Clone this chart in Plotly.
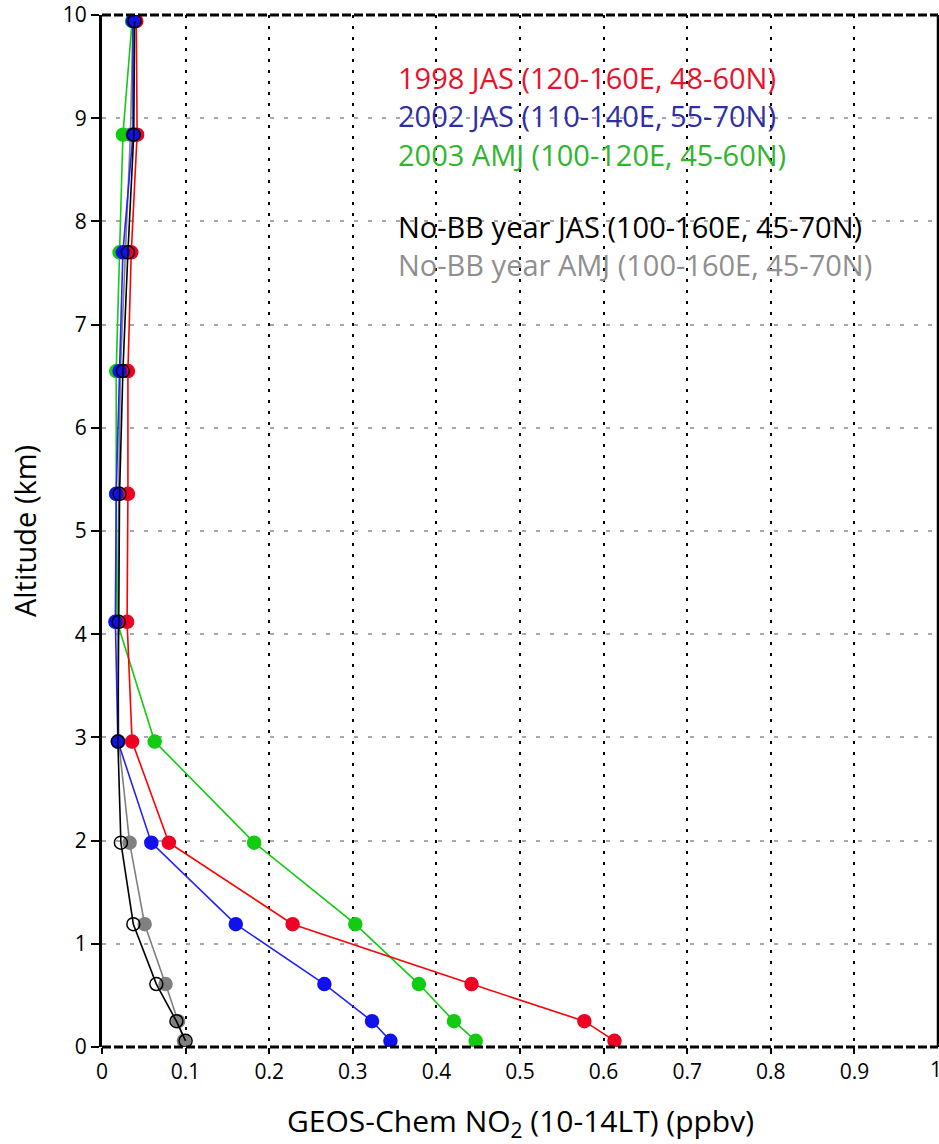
import plotly.graph_objects as go

altitude = [0.06, 0.25, 0.61, 1.19, 1.98, 2.96, 4.12, 5.36, 6.55, 7.70, 8.84, 9.94]

no2_1998_jas = [0.613, 0.577, 0.442, 0.228, 0.080, 0.036, 0.030, 0.031, 0.031, 0.035, 0.042, 0.041]
no2_2002_jas = [0.345, 0.323, 0.266, 0.160, 0.059, 0.019, 0.016, 0.017, 0.021, 0.025, 0.037, 0.037]
no2_2003_amj = [0.447, 0.421, 0.379, 0.303, 0.182, 0.063, 0.018, 0.017, 0.017, 0.021, 0.025, 0.036]
no2_nobb_jas = [0.100, 0.089, 0.065, 0.0375, 0.0226, 0.019, 0.020, 0.021, 0.025, 0.031, 0.038, 0.039]
no2_nobb_amj = [0.098, 0.091, 0.076, 0.051, 0.033, 0.020, 0.019, 0.020, 0.022, 0.028, 0.034, 0.037]

x_ticks = [0, 0.1, 0.2, 0.3, 0.4, 0.5, 0.6, 0.7, 0.8, 0.9]
x_tick_labels = ["0", "0.1", "0.2", "0.3", "0.4", "0.5", "0.6", "0.7", "0.8", "0.9"]
x_last_tick = 1
x_last_label = "1"
y_ticks = list(range(0, 11))

x_title = "GEOS-Chem NO<sub>2</sub> (10-14LT) (ppbv)"
y_title = "Altitude (km)"

legend_labels = [
    "1998 JAS (120-160E, 48-60N)",
    "2002 JAS (110-140E, 55-70N)",
    "2003 AMJ (100-120E, 45-60N)",
    "No-BB year JAS (100-160E, 45-70N)",
    "No-BB year AMJ (100-160E, 45-70N)",
]
legend_colors = ["#e8132b", "#2e2ea8", "#2fb52f", "#000000", "#8f8f8f"]

FONT = "Open Sans"

fig = go.Figure()

def add_series(x, color, marker_fill, marker_line):
    fig.add_trace(go.Scatter(
        x=x, y=altitude, mode="lines+markers",
        line=dict(color=color, width=1.6),
        marker=dict(size=13, color=marker_fill, line=dict(color=marker_line, width=1.5)),
        showlegend=False, hoverinfo="skip",
    ))

add_series(no2_nobb_amj, "#808080", "#808080", "#808080")
add_series(no2_2003_amj, "#11cc11", "#11cc11", "#11cc11")
add_series(no2_1998_jas, "#ff0000", "#ee0022", "#ee0022")
add_series(no2_2002_jas, "#2222ff", "#1111ee", "#1111ee")
add_series(no2_nobb_jas, "#000000", "rgba(255,255,255,0)", "#000000")

ypix = [77, 116, 154, 226, 264]
for txt, col, yp in zip(legend_labels, legend_colors, ypix):
    fig.add_annotation(
        x=(396 - 102) / 836, y=(1047 - yp) / 1032, xref="paper", yref="paper",
        text=txt, showarrow=False, xanchor="left", yanchor="middle",
        font=dict(family=FONT, size=29, color=col),
    )

# last x tick label at the right edge (partly cut by the page edge as in the original)
fig.add_annotation(x=x_last_tick, y=0, xref="x", yref="paper", yshift=-22, xshift=-2,
                   text=x_last_label, showarrow=False, xanchor="center", yanchor="middle",
                   font=dict(family=FONT, size=21, color="black"))

# x-axis title placed below the ticks
fig.add_annotation(x=0.5, y=(1047 - 1122) / 1032, xref="paper", yref="paper",
                   text=x_title, showarrow=False, xanchor="center", yanchor="middle",
                   font=dict(family=FONT, size=30, color="black"))

# frame: dashed top and bottom, solid right
for x0, y0, x1, y1 in [(0, 1, 1, 1), (0, 0, 1, 0)]:
    fig.add_shape(type="line", xref="paper", yref="paper", x0=x0, y0=y0, x1=x1, y1=y1,
                  line=dict(color="black", width=3, dash="9px,3px"))
fig.add_shape(type="line", xref="paper", yref="paper", x0=1, y0=0, x1=1, y1=1,
              line=dict(color="black", width=2.5))

fig.update_layout(
    width=939, height=1144,
    margin=dict(l=102, r=1, t=15, b=97),
    plot_bgcolor="white", paper_bgcolor="white",
    font=dict(family=FONT, color="black"),
    xaxis=dict(
        range=[0, 1], tickmode="array", tickvals=x_ticks, ticktext=x_tick_labels,
        showgrid=True, gridcolor="black", gridwidth=2.2, griddash="3px,8px",
        ticks="outside", ticklen=6, tickwidth=1.5, tickcolor="black",
        tickfont=dict(size=21, family=FONT), automargin=False,
        showline=False, zeroline=False,
    ),
    yaxis=dict(
        range=[0, 10], tickmode="array", tickvals=y_ticks,
        showgrid=True, gridcolor="#a8a8a8", gridwidth=1.5, griddash="4px,10px",
        ticks="outside", ticklen=8, tickwidth=1.5, tickcolor="black",
        tickfont=dict(size=21, family=FONT), automargin=False,
        showline=True, linecolor="black", linewidth=3, zeroline=False,
        title=dict(text=y_title, font=dict(size=29, family=FONT), standoff=18),
    ),
)

fig.write_html("out.html")
